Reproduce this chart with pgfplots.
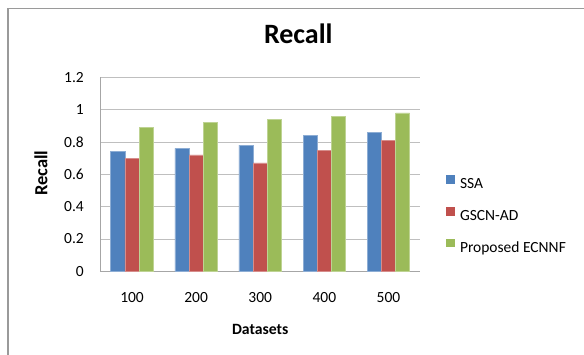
\documentclass[border=0pt]{standalone}
\usepackage{fontspec}
\setmainfont{Carlito}
\usepackage{pgfplots}
\pgfplotsset{compat=1.18}

\definecolor{ssablue}{HTML}{4F81BD}
\definecolor{gscnred}{HTML}{C0504D}
\definecolor{ecnnfgreen}{HTML}{9BBB59}
\definecolor{gridgray}{HTML}{BFBFBF}
\definecolor{axisgray}{HTML}{A6A6A6}
\definecolor{framegray}{HTML}{9A9A9A}

\begin{document}
\begin{tikzpicture}[x=1pt,y=1pt]
% chart area frame (left and top edges)
\draw[framegray, line width=1.2pt] (8,-420) -- (8,-8.5) -- (640,-8.5);
\begin{axis}[
  at={(100pt,-271.3pt)}, anchor=south west,
  scale only axis, width=320.5pt, height=194pt,
  ybar=0pt, bar width=14.2pt,
  xmin=-0.5, xmax=4.5, ymin=0, ymax=1.2,
  xtick={0,1,2,3,4}, xticklabels={100,200,300,400,500},
  ytick={0,0.2,0.4,0.6,0.8,1,1.2},
  /pgf/number format/assume math mode=true,
  ymajorgrids, major grid style={gridgray, line width=0.9pt},
  axis x line*=bottom, axis y line*=left,
  axis line style={-, axisgray, line width=0.9pt},
  major tick length=0pt,
  tick label style={font=\fontsize{15.5}{18}\selectfont, black},
  xticklabel style={anchor=base, yshift=-31.4pt},
  yticklabel style={anchor=east, inner sep=0pt, xshift=-16pt},
  title={Recall},
  title style={at={(axis description cs:0.6187,1.1459)}, anchor=base,
    font=\bfseries\fontsize{28}{32}\selectfont},
  xlabel={Datasets},
  xlabel style={at={(axis description cs:0.5,-0.3232)}, anchor=base,
    font=\bfseries\fontsize{15.7}{18}\selectfont},
  ylabel={Recall},
  ylabel style={at={(axis description cs:-0.1644,0.505)}, anchor=base,
    font=\bfseries\fontsize{18.5}{20}\selectfont},
  legend style={at={(axis description cs:1.0796,0.4964)}, anchor=north west,
    draw=none, fill=none, inner sep=0pt, outer sep=0pt,
    row sep=14.75pt, column sep=5.3pt,
    font=\fontsize{15.5}{18}\selectfont,
    nodes={inner sep=0pt, text height=11pt, text depth=3.5pt}},
  legend cell align=left,
  legend image code/.code={\fill[#1, draw=none] (0pt,1.15pt) rectangle (8.7pt,9.85pt);},
]
\addplot[fill=ssablue, draw=ssablue!65!white, line width=0.5pt]
  coordinates {(0,0.74) (1,0.76) (2,0.78) (3,0.84) (4,0.86)};
\addplot[fill=gscnred, draw=gscnred!65!white, line width=0.5pt]
  coordinates {(0,0.70) (1,0.72) (2,0.67) (3,0.75) (4,0.81)};
\addplot[fill=ecnnfgreen, draw=ecnnfgreen!65!white, line width=0.5pt]
  coordinates {(0,0.89) (1,0.92) (2,0.94) (3,0.96) (4,0.98)};
\legend{SSA, GSCN-AD, Proposed ECNNF}
\end{axis}
\pgfresetboundingbox
\useasboundingbox (0,0) rectangle (584,-354);
\end{tikzpicture}
\end{document}
